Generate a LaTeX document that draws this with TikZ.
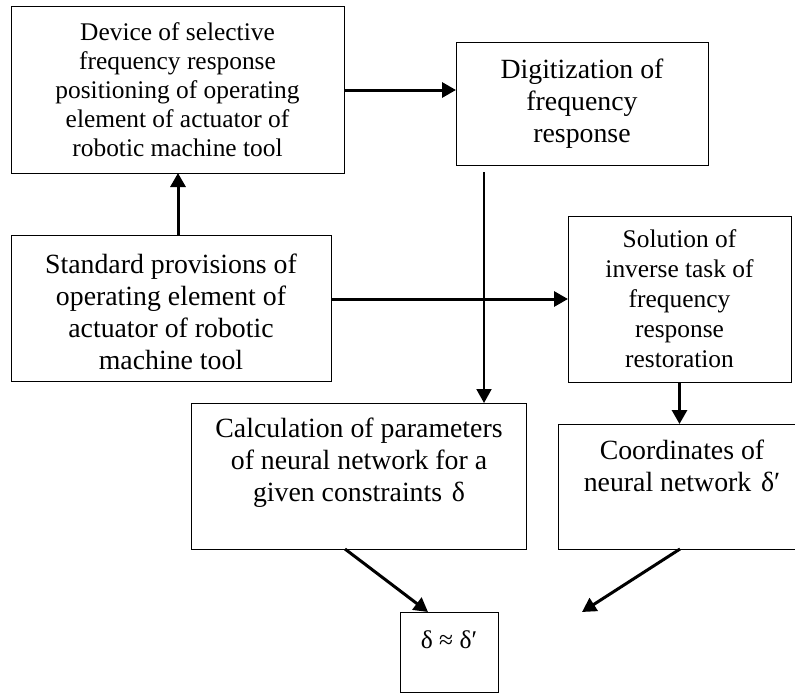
\documentclass[tikz,border=0pt]{standalone}
\usepackage{fontspec}
\setmainfont{Liberation Serif}
\usetikzlibrary{arrows.meta}
\begin{document}
\begin{tikzpicture}[x=1pt,y=-1pt,
  box/.style={draw, line width=1pt, inner sep=0pt, outer sep=0pt, anchor=north west},
  txt/.style={align=center, inner sep=0pt},
  fa/.style={font=\fontsize{25.4}{29}\selectfont},
  fb/.style={font=\fontsize{27.8}{32}\selectfont},
  fc/.style={font=\fontsize{25.4}{30}\selectfont},
  arr/.style={line width=3pt, -{Triangle[length=14pt,width=15pt]}},
  thinarr/.style={line width=2pt, -{Triangle[length=14pt,width=15pt]}}]
\useasboundingbox (0,0) rectangle (795,693);
% boxes
\node[box, minimum width=333pt, minimum height=166pt] (b1) at (11,7) {};
\node[box, minimum width=252pt, minimum height=122pt] (b2) at (456,43) {};
\node[box, minimum width=320pt, minimum height=146pt] (b3) at (11,235) {};
\node[box, minimum width=223pt, minimum height=166pt] (b4) at (568,216) {};
\node[box, minimum width=335pt, minimum height=146pt] (b5) at (191,403) {};
\node[box, minimum width=248pt, minimum height=125pt] (b6) at (558,424) {};
\node[box, minimum width=98pt, minimum height=80pt] (b7) at (400,612) {};
% texts
\node[txt, fa] (t1) at (b1.center) {Device of selective\\frequency response\\positioning of operating\\element of actuator of\\robotic machine tool};
\node[txt, fb] (t2) at (b2.center) {Digitization of\\frequency\\response};
\node[txt, fb] (t3) at (171,312) {Standard provisions of\\operating element of\\actuator of robotic\\machine tool};
\node[txt, fc] (t4) at (b4.center) {Solution of\\inverse task of\\frequency\\response\\restoration};
\node[txt, fb, anchor=north] (t5) at (359,418) {Calculation of parameters\\of neural network for a\\given constraints\hspace{0.35em}δ};
\node[txt, fb, anchor=north] (t6) at (682,440) {Coordinates of\\neural network\hspace{0.35em}δ′};
\node[txt, font=\fontsize{25.5}{28}\selectfont, anchor=base] (t7) at (449,648) {δ ≈ δ′};
% connectors
\draw[arr] ([xshift=7pt]b3.north) -- ([xshift=7pt]b3.north |- b1.south);
\draw[arr] (b1.east) -- (b1.east -| b2.west);
\draw[arr] (b3.east |- b4.west) -- (b4.west);
\draw[arr] (b4.south) -- (b4.south |- b6.north);
\coordinate (v) at (484,172);
\draw[thinarr] (v) -- (v |- b5.north);
\draw[arr] ([xshift=-13.5pt]b5.south) -- ([xshift=28pt]b7.north west);
\coordinate (e6) at (582,612);
\draw[arr] ([xshift=-2pt]b6.south) -- (e6);
\end{tikzpicture}
\end{document}
